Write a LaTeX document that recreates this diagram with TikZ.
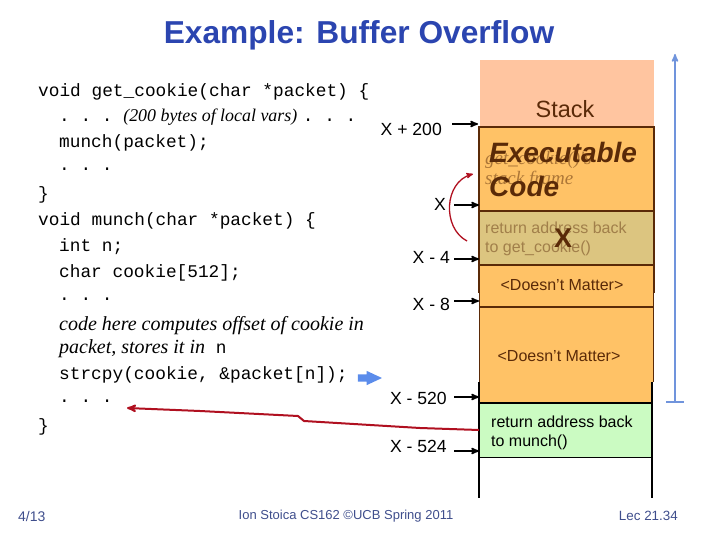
\documentclass[tikz,border=0pt]{standalone}
\usepackage{fontspec}
\setmainfont{Liberation Sans}
\setmonofont{Liberation Mono}
\newfontfamily\serifit[ItalicFont=Liberation Serif Italic]{Liberation Serif}
\usetikzlibrary{calc,shapes,arrows}
\definecolor{titleblue}{HTML}{2B45B0}
\definecolor{footblue}{HTML}{3F4E8C}
\definecolor{peach}{HTML}{FFC5A0}
\definecolor{frameorange}{HTML}{FFC266}
\definecolor{tanbox}{HTML}{DCC580}
\definecolor{retgreen}{HTML}{CBFBC2}
\definecolor{darkbrown}{HTML}{5A2A08}
\definecolor{liftblue}{HTML}{7094DC}
\definecolor{stepblue}{HTML}{5B8CEB}
\definecolor{markred}{HTML}{B01020}
\newcommand{\codesize}{\fontsize{17.8}{20}\selectfont}
\newcommand{\itsize}{\fontsize{20}{22}\selectfont\serifit\itshape}
\tikzset{
   code node/.style={anchor=west,inner sep=0pt,font=\ttfamily\codesize},
   addr node/.style={anchor=east,inner sep=0pt,font=\fontsize{17.6}{20}\selectfont},
   foot node/.style={inner sep=0pt,text=footblue,font=\fontsize{13}{15}\selectfont},
   slot text/.style={anchor=west,inner sep=0pt,align=left,font=\fontsize{16}{19.5}\selectfont},
   addr arrow/.style={->,>=stealth',line width=1.6pt,shorten >=0pt}
}
\begin{document}
\begin{tikzpicture}[x=1pt,y=-1pt]
\useasboundingbox (0,0) rectangle (720,540);
\node[inner sep=0pt,text=titleblue,font=\fontsize{31.7}{36}\selectfont\bfseries] (title) at (359,35) {Example: Buffer Overflow};
%
\node[code node] (c1) at (38,92)  {void get\_cookie(char *packet) \{};
\node[code node] (c2) at (59,117) {. . . {\fontsize{17.9}{20}\selectfont\serifit\itshape (200 bytes of local vars)}\hspace{-5pt} . . .};
\node[code node] (c3) at (59,143) {munch(packet);};
\node[code node] (c4) at (59,169) {. . .};
\node[code node] (c5) at (38,195) {\}};
\node[code node] (c6) at (38,221) {void munch(char *packet) \{};
\node[code node] (c7) at (59,247) {int n;};
\node[code node] (c8) at (59,273) {char cookie[512];};
\node[code node] (c9) at (59,299) {. . .};
\node[code node] (c10) at (59,326) {{\itsize code here computes offset of cookie in}};
\node[code node] (c11) at (59,349) {{\itsize packet, stores it in} n};
\node[code node] (c12) at (59,375) {strcpy(cookie, \&packet[n]);};
\node[code node] (c13) at (59,401) {. . .};
\node[code node] (c14) at (38,427) {\}};
\node[single arrow,fill=stepblue,inner xsep=0pt,inner ysep=3.5pt,minimum height=24pt,
      single arrow head extend=3.5pt,single arrow tip angle=50] (jump) at (366,378) {};
%
\fill[peach] (480,60) rectangle (654,126);
\fill[frameorange] (480,126) rectangle (653,403);
\fill[tanbox] (480,211) rectangle (653,264);
\fill[retgreen] (480,403) rectangle (652,457);
\draw[darkbrown,line width=1pt] (479.5,293) -- (479.5,382) (653,293) -- (653,382);
\draw[darkbrown,line width=2pt] (479,293) -- (479,127) -- (654,127) -- (654,293);
\draw[darkbrown,line width=1.5pt] (480,211) -- (653,211) (480,265) -- (653,265) (480,307) -- (653,307);
\draw[line width=2pt] (478.5,382) -- (478.5,498) (652,382) -- (652,498);
\draw[line width=2pt] (479,403) -- (652,403);
\draw[line width=.8pt] (479,457) -- (652,457);
%
\node[inner sep=0pt,text=darkbrown,font=\fontsize{23.5}{26}\selectfont] (stack) at (565,109) {Stack};
\node[slot text,text=darkbrown!50!frameorange,font=\fontsize{19}{20}\selectfont\serifit\itshape] (frame) at (485,170) {get\_cookie()'s\\stack frame};
\node[anchor=west,inner sep=0pt,align=left,text=darkbrown,font=\fontsize{28}{34}\selectfont\bfseries\itshape] (exec) at (489,169) {Executable\\Code};
\node[slot text,text=darkbrown!45!tanbox] (ret1) at (485,239) {return address back\\to get\_cookie()};
\node[inner sep=0pt,text=darkbrown,font=\fontsize{27}{30}\selectfont\bfseries] (xmark) at (563,238) {X};
\node[inner sep=0pt,text=darkbrown,font=\fontsize{16}{18}\selectfont] (dm1) at (562,285) {<Doesn't Matter>};
\node[inner sep=0pt,text=darkbrown,font=\fontsize{16}{18}\selectfont] (dm2) at (559,356) {<Doesn't Matter>};
\node[slot text] (ret2) at (491,433) {return address back\\to munch()};
%
\node[addr node] (a1) at (442,129) {X + 200};
\node[addr node] (a2) at (446,204) {X};
\node[addr node] (a3) at (450,257) {X - 4};
\node[addr node] (a4) at (450,304) {X - 8};
\node[addr node] (a5) at (447,398) {X - 520};
\node[addr node] (a6) at (447,446) {X - 524};
%
\coordinate (t1) at (452,124);  \coordinate (h1) at (478,124);
\coordinate (t2) at (454,205);  \coordinate (h2) at (479,205);
\coordinate (t3) at (454,259);  \coordinate (h3) at (479,259);
\coordinate (t4) at (454,301);  \coordinate (h4) at (479,301);
\coordinate (t5) at (454,397);  \coordinate (h5) at (479,397);
\coordinate (t6) at (454,451);  \coordinate (h6) at (479,451);
\path[addr arrow]
  (t1) edge (h1)
  (t2) edge (h2)
  (t3) edge (h3)
  (t4) edge (h4)
  (t5) edge (h5)
  (t6) edge (h6)
  ;
%
\coordinate (low) at (675,402);
\coordinate (high) at (675,54);
\draw[->,>=stealth',liftblue,line width=1.6pt] (low) -- (high);
\draw[liftblue,line width=1.6pt] ($ (low) + (-9,0) $) -- ($ (low) + (9,0) $);
%
\coordinate (bs) at (467,241);
\coordinate (be) at (473,174);
\draw[->,>=stealth',markred,line width=1.3pt] (bs) .. controls (442,228) and (444,182) .. (be);
\coordinate (rs) at (479,430);
\coordinate (re) at (127,408);
\draw[->,>=stealth',markred,line width=2pt] (rs) -- (420,428) -- (304,421) -- (298,416) -- (200,411) -- (re);
%
\node[foot node,anchor=west,font=\fontsize{14}{15}\selectfont] (date) at (18,516) {4/13};
\node[foot node] (course) at (346,516) {Ion Stoica CS162 ©UCB Spring 2011};
\node[foot node,anchor=east,font=\fontsize{13.4}{15}\selectfont] (lec) at (678,516) {Lec 21.34};
\end{tikzpicture}
\end{document}
